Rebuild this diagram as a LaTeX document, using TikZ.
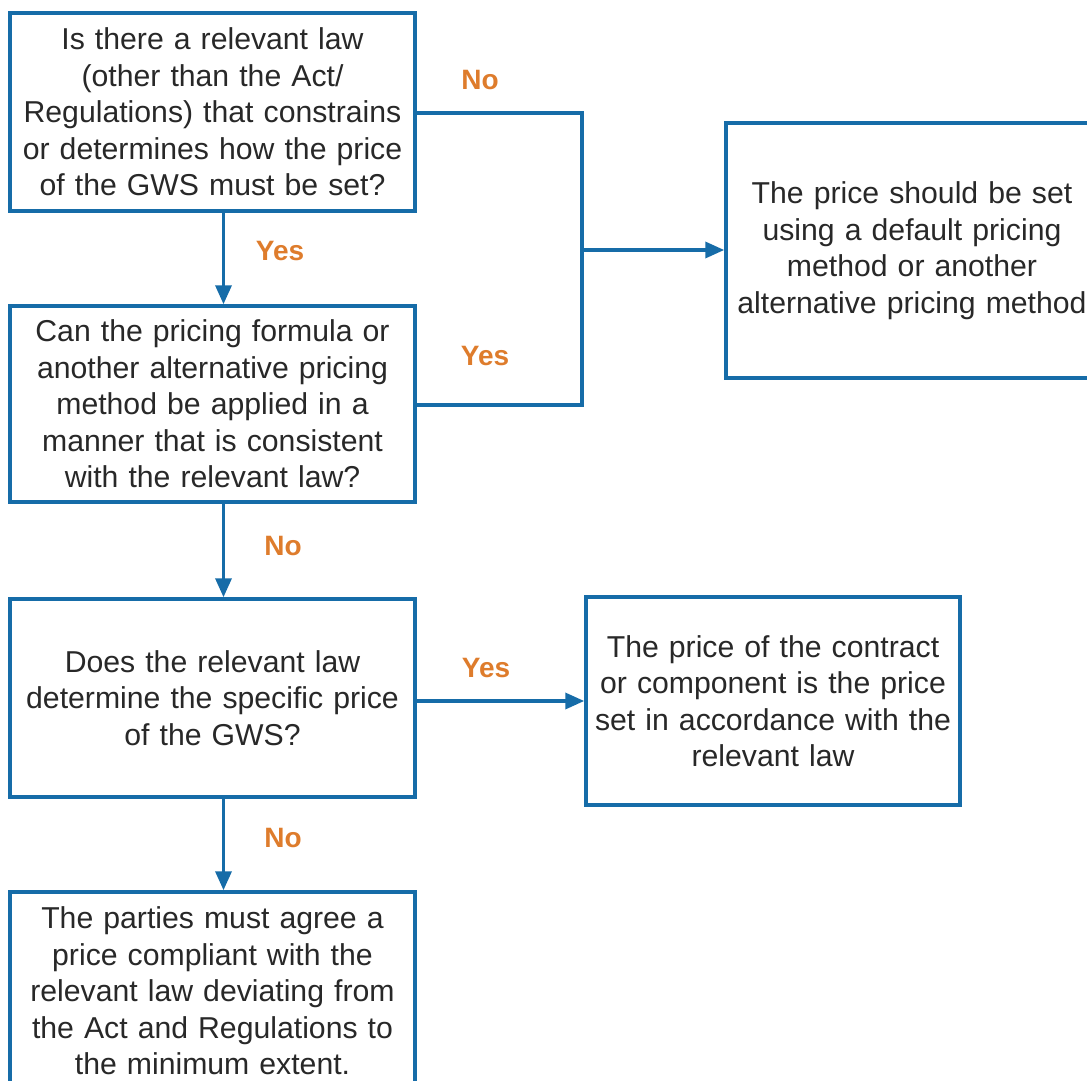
\documentclass[tikz,border=0pt]{standalone}
\usepackage{fontspec}
\setmainfont{Liberation Sans}
\usetikzlibrary{arrows.meta,calc}

\definecolor{boxblue}{RGB}{22,108,168}
\definecolor{labelorange}{RGB}{222,124,44}
\definecolor{textgray}{RGB}{40,40,40}

\begin{document}
\begin{tikzpicture}[x=1pt,y=-1pt,>={Triangle[length=19pt,width=16pt]},
    box/.style={draw=boxblue,line width=3.5pt,fill=white,inner sep=0pt,
      align=center,text=textgray,font=\fontsize{30.2}{36.5}\selectfont,
      minimum height=198pt},
    link/.style={draw=boxblue,line width=3.5pt},
    answer/.style={text=labelorange,font=\fontsize{28}{32}\selectfont\bfseries}]
  \clip (0,0) rectangle (1087,1081);

  \node[box,minimum width=405pt,text width=400pt] (law) at (212.5,112)
    {Is there a relevant law\\(other than the Act/\\Regulations) that constrains\\
     or determines how the price\\of the GWS must be set?};
  \node[box,minimum width=405pt,text width=400pt,minimum height=196pt] (apply) at (212.5,404)
    {Can the pricing formula or\\another alternative pricing\\method be applied in a\\
     manner that is consistent\\with the relevant law?};
  \node[box,minimum width=405pt,text width=400pt] (specific) at (212.5,698)
    {Does the relevant law\\determine the specific price\\of the GWS?};
  \node[box,minimum width=405pt,text width=400pt] (agree) at (212.5,991)
    {The parties must agree a\\price compliant with the\\relevant law deviating from\\
     the Act and Regulations to\\the minimum extent.};
  \node[box,minimum width=372pt,text width=368pt,minimum height=255pt] (default) at (912,250.5)
    {The price should be set\\using a default pricing\\method or another\\
     alternative pricing method};
  \node[box,minimum width=374pt,text width=370pt,minimum height=208pt] (setlaw) at (773,701)
    {The price of the contract\\or component is the price\\set in accordance with the\\
     relevant law};

  % right-hand bracket joining the two questions
  \coordinate (join) at (582,250);
  \draw[link] (law.east |- 0,113) -| (582,405) -- (apply.east |- 0,405);
  \draw[link,->] (join) -- (default.west |- join);

  \draw[link,->] ([xshift=11pt]law.south) -- ([xshift=11pt]apply.north);
  \draw[link,->] ([xshift=11pt]apply.south) -- ([xshift=11pt]specific.north);
  \draw[link,->] ([xshift=11pt]specific.south) -- ([xshift=11pt]agree.north);
  \draw[link,->] (specific.east |- 0,701) -- (setlaw.west |- 0,701);

  \node[answer] at (480,80) {No};
  \node[answer] at (280,251) {Yes};
  \node[answer] at (485,356) {Yes};
  \node[answer] at (283,546) {No};
  \node[answer] at (486,668) {Yes};
  \node[answer] at (283,838) {No};
\end{tikzpicture}
\end{document}
